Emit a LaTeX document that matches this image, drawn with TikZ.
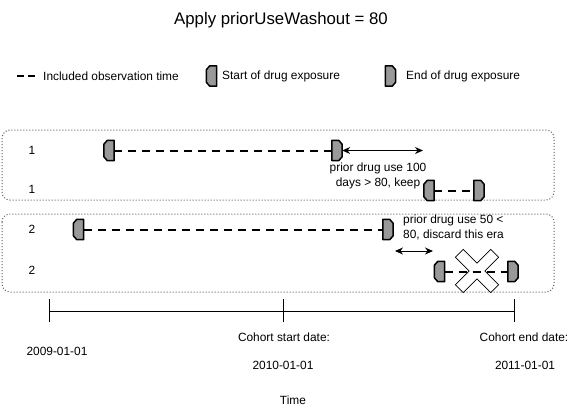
\documentclass[tikz,border=0pt]{standalone}
\usepackage{fontspec}
\setmainfont{Liberation Sans}
\usepackage{tikz}
\usetikzlibrary{shapes,arrows.meta}

\definecolor{markColor}{RGB}{153,153,153}
\definecolor{boxColor}{RGB}{90,90,90}

\begin{document}
\begin{tikzpicture}[x=1pt,y=-1pt,
  drugMark/.style={inner sep=0pt,minimum width=10pt,minimum height=20pt},
  markLine/.style={draw=black,fill=markColor,line width=1.5pt,line join=round},
  obsLine/.style={line width=2pt,dash pattern=on 8pt off 6pt},
  gapArrow/.style={{Stealth[length=8pt,width=7pt]}-{Stealth[length=8pt,width=7pt]},line width=0.9pt},
  txt/.style={font=\fontsize{11.9}{15.5}\selectfont,inner sep=0pt},
  rowBox/.style={draw=boxColor,dash pattern=on 1pt off 2pt,line width=1pt,rounded corners=8pt}]
\useasboundingbox (0,0) rectangle (582,410);

\node[font=\fontsize{16.8}{20}\selectfont] (title) at (281,20) {Apply priorUseWashout = 80};

\coordinate (legA) at (17,76);
\coordinate (legB) at (35,76);
\draw[line width=2pt,dash pattern=on 7pt off 4pt] (legA) -- (legB);
\node[txt,anchor=west] (legObs) at (43,76) {Included observation time};
\node[drugMark] (legStart) at (211.5,76) {};
\node[txt,anchor=west] (legStartTxt) at (222,76) {Start of drug exposure};
\node[drugMark] (legEnd) at (390.5,76) {};
\node[txt,anchor=west] (legEndTxt) at (406,76) {End of drug exposure};

\draw[rowBox] (2,130) rectangle (554,200);
\draw[rowBox] (2,214) rectangle (554,292);

\node[txt] (id1a) at (32,150) {1};
\node[txt] (id1b) at (32,189) {1};
\node[txt] (id2a) at (32,229) {2};
\node[txt] (id2b) at (32,270) {2};

\node[drugMark] (r1Start) at (109,150.5) {};
\node[drugMark] (r1End) at (337,150.5) {};
\draw[obsLine] (r1Start) -- (r1End);
\coordinate (r1Gap) at (423,150.5);
\draw[gapArrow] (r1End) -- (r1Gap);
\node[txt,align=center] (r1Note) at (378,176) {prior drug use 100\\days > 80, keep};
\node[drugMark] (r1bStart) at (429,190.5) {};
\node[drugMark] (r1bEnd) at (479,190.5) {};
\draw[obsLine] (r1bStart) -- (r1bEnd);

\node[drugMark] (r2Start) at (78.5,229.5) {};
\node[drugMark] (r2End) at (388,229.5) {};
\draw[obsLine] (r2Start) -- (r2End);
\node[txt,align=left,anchor=north west] (r2Note) at (403,214.5) {prior drug use 50 <\\80, discard this era};
\coordinate (r2GapA) at (395,251);
\coordinate (r2GapB) at (433,251);
\draw[gapArrow] (r2GapA) -- (r2GapB);
\begin{scope}[shift={(477,271)},rotate=45]
  \draw[fill=white,line width=0.7pt] (-25,-5.5) -- (-5.5,-5.5) -- (-5.5,-25) -- (5.5,-25) -- (5.5,-5.5) -- (25,-5.5)
    -- (25,5.5) -- (5.5,5.5) -- (5.5,25) -- (-5.5,25) -- (-5.5,5.5) -- (-25,5.5) -- cycle;
\end{scope}
\node[drugMark] (r2bStart) at (439.5,271.5) {};
\node[drugMark] (r2bEnd) at (513,271.5) {};
\draw[obsLine] (r2bStart) -- (r2bEnd);

\foreach \m in {legStart,r1Start,r1bStart,r2Start,r2bStart}
  \draw[markLine] ([xshift=3.5pt]\m.north west) -- (\m.north east) -- (\m.south east) -- ([xshift=3.5pt]\m.south west)
    -- ([yshift=4pt]\m.south west) -- ([yshift=-4pt]\m.north west) -- cycle;
\foreach \m in {legEnd,r1End,r1bEnd,r2End,r2bEnd}
  \draw[markLine] ([xshift=-3.5pt]\m.north east) -- (\m.north west) -- (\m.south west) -- ([xshift=-3.5pt]\m.south east)
    -- ([yshift=4pt]\m.south east) -- ([yshift=-4pt]\m.north east) -- cycle;

\draw[line width=0.9pt] (49,311) -- (514,311);
\foreach \x in {49,283,514}
  \draw[line width=0.9pt] (\x,299) -- (\x,322);
\node[txt] (d2009) at (57,351) {2009-01-01};
\node[txt] (cStart) at (284,337) {Cohort start date:};
\node[txt] (d2010) at (283,365) {2010-01-01};
\node[txt] (cEnd) at (524,337) {Cohort end date:};
\node[txt] (d2011) at (525,365) {2011-01-01};
\node[txt] (time) at (293,400) {Time};
\end{tikzpicture}
\end{document}
